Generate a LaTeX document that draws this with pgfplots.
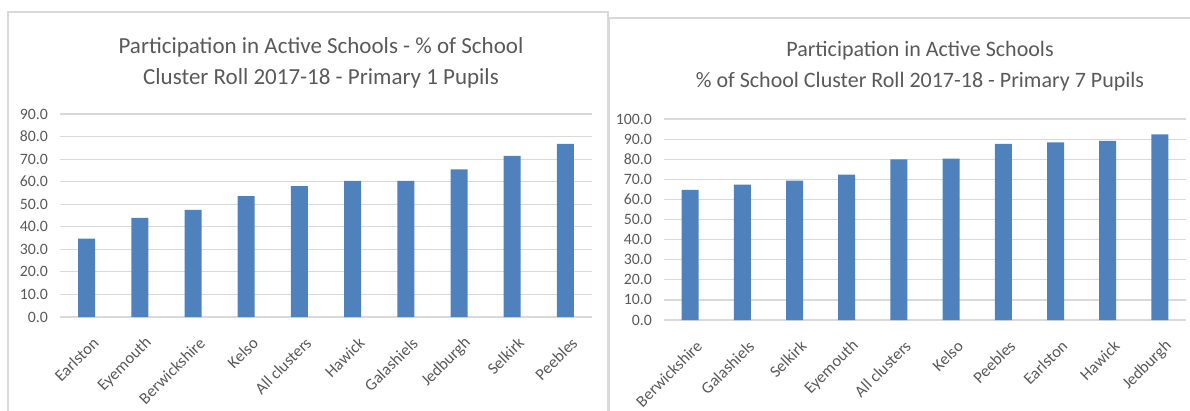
\documentclass[border=0pt]{standalone}
\usepackage{fontspec}
\setmainfont{Carlito}
\usepackage{pgfplots}
\pgfplotsset{compat=1.18}
\definecolor{barblue}{HTML}{4F81BD}
\definecolor{txtgray}{HTML}{595959}
\definecolor{gridgray}{HTML}{D9D9D9}

\pgfplotsset{
  clusterbar/.style={
    scale only axis,
    ybar,
    bar width=17pt,
    xmin=-0.5, xmax=9.5,
    ymin=0,
    xtick=data,
    axis line style={draw=none},
    major tick length=0pt,
    ymajorgrids,
    grid style={gridgray, line width=1.2pt},
    tick label style={txtgray, font=\fontsize{15.8}{19}\selectfont},
    yticklabel style={anchor=east, inner sep=0pt, xshift=-12pt,
      /pgf/number format/.cd, fixed, fixed zerofill, precision=1, assume math mode=true},
    xticklabel style={rotate=45, anchor=east, inner sep=0pt, xshift=-10pt, yshift=-23pt,
      font=\fontsize{16.5}{19}\selectfont},
  }
}

\begin{document}
\begin{tikzpicture}[x=1pt, y=1pt]
\useasboundingbox (0,0) rectangle (1190,410);
% frames
\draw[gridgray, line width=1.5pt] (8,-5) -- (8,398) -- (608,398) -- (608,-5);
\draw[gridgray, line width=1.5pt] (609,-5) -- (609,392) -- (1200,392);

% titles
\node[txtgray, align=center, font=\fontsize{23}{31}\selectfont] at (321,347)
  {Participation in Active Schools - \% of School\\Cluster Roll 2017-18 - Primary 1 Pupils};
\node[txtgray, align=center, font=\fontsize{22}{31}\selectfont] at (920,344)
  {Participation in Active Schools\\\% of School Cluster Roll 2017-18 - Primary 7 Pupils};

\begin{axis}[clusterbar,
  at={(60pt,93pt)}, anchor=south west,
  width=532pt, height=203pt,
  ymax=90, ytick distance=10,
  xticklabels={Earlston,Eyemouth,Berwickshire,Kelso,All clusters,Hawick,Galashiels,Jedburgh,Selkirk,Peebles}]
\addplot[fill=barblue, draw=none] coordinates {
  (0,34.7) (1,44.0) (2,47.5) (3,53.6) (4,58.0)
  (5,60.3) (6,60.3) (7,65.5) (8,71.4) (9,76.7)
};
\end{axis}

\begin{axis}[clusterbar,
  at={(664pt,90pt)}, anchor=south west,
  width=522pt, height=201pt,
  ymax=100, ytick distance=10,
  xticklabels={Berwickshire,Galashiels,Selkirk,Eyemouth,All clusters,Kelso,Peebles,Earlston,Hawick,Jedburgh}]
\addplot[fill=barblue, draw=none] coordinates {
  (0,64.7) (1,67.3) (2,69.3) (3,72.3) (4,79.9)
  (5,80.3) (6,87.6) (7,88.4) (8,89.1) (9,92.4)
};
\end{axis}
\end{tikzpicture}
\end{document}
